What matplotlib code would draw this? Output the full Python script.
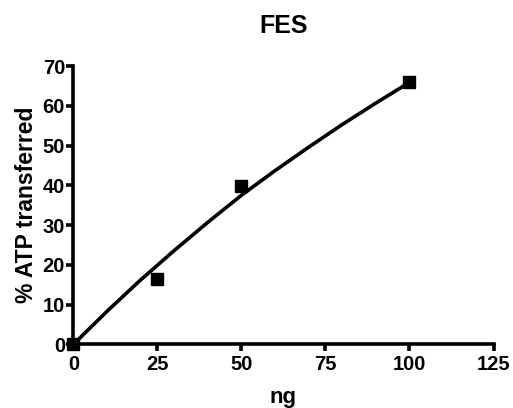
import numpy as np
import matplotlib.pyplot as plt

plt.rcParams['font.family'] = ['Liberation Sans', 'DejaVu Sans']
plt.rcParams['font.weight'] = 'bold'

# measured points
ng = [0, 25, 50, 100]
atp = [0, 16.4, 39.8, 65.9]

# fitted curve
fit_x = [0, 10, 20, 30, 40, 50, 60, 70, 80, 90, 100]
fit_y = [0, 8.3, 16.2, 23.6, 30.7, 37.5, 43.7, 49.6, 55.3, 60.7, 65.9]

fig = plt.figure(figsize=(5.13, 4.08), dpi=100)
ax = fig.add_axes([0.143, 0.156, 0.819, 0.682])

ax.plot(fit_x, fit_y, color='black', lw=2.6, clip_on=False, zorder=3)
ax.plot(ng, atp, 's', color='black', ms=9, clip_on=False, zorder=4)

ax.set_xlim(0, 125)
ax.set_ylim(0, 70)
ax.set_xticks([0, 25, 50, 75, 100, 125])
ax.set_yticks(range(0, 71, 10))

for s in ['top', 'right']:
    ax.spines[s].set_visible(False)
for s in ['left', 'bottom']:
    ax.spines[s].set_linewidth(2.6)
ax.tick_params(width=2.6, length=5, labelsize=14.5)
ax.tick_params(axis='y', pad=1)
ax.tick_params(axis='x', pad=3)
for lab in ax.get_xticklabels() + ax.get_yticklabels():
    lab.set_fontweight('bold')

ax.set_title('FES', fontsize=18, fontweight='bold', pad=24)
ax.set_xlabel('ng', fontsize=16, fontweight='bold', labelpad=9)
ax.set_ylabel('% ATP transferred', fontsize=16.5, fontweight='bold', labelpad=3)

plt.savefig('out.png', dpi=100)
